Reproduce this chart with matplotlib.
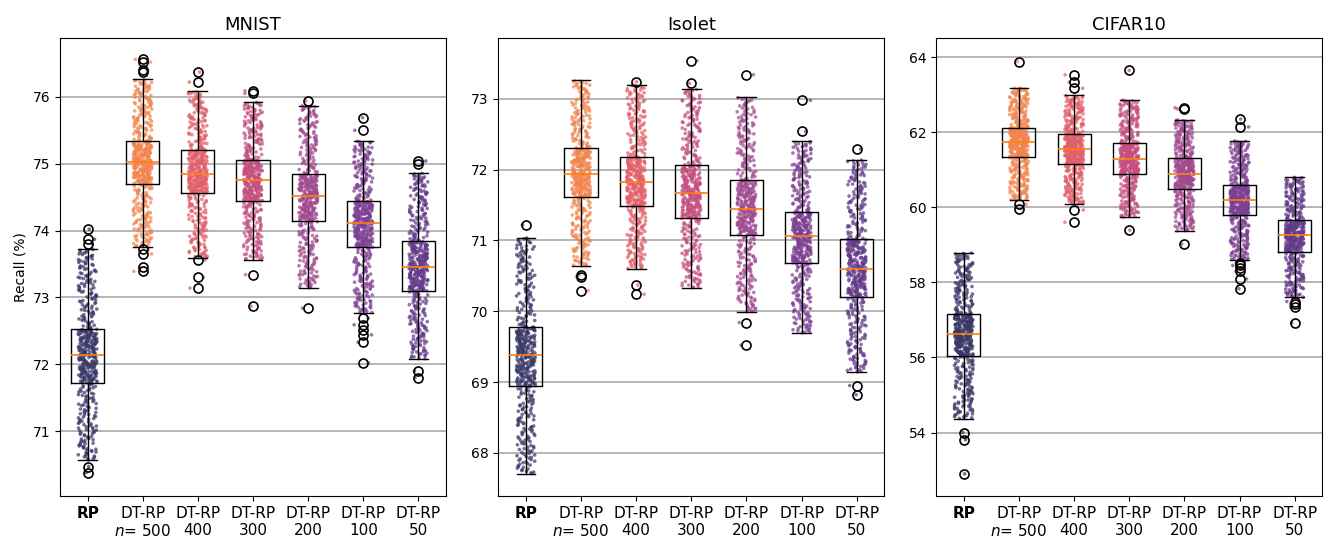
import matplotlib.pyplot as plt
import numpy as np
import pandas as pd
import seaborn as sns

titles = ['MNIST', 'Isolet', 'CIFAR10']
labels = ['RP', 'DT-RP\n$n$= 500', 'DT-RP\n400', 'DT-RP\n300',
          'DT-RP\n200', 'DT-RP\n100', 'DT-RP\n50']
colors = ['#3a3768', '#f2854f', '#e2606a', '#c44f80',
          '#a04a90', '#7d3f92', '#643a8a']

# MNIST recall (%) per method
mnist_whislo = [70.57, 73.76, 73.59, 73.56, 73.14, 72.77, 72.08]
mnist_q1 = [71.72, 74.70, 74.56, 74.44, 74.14, 73.75, 73.10]
mnist_med = [72.14, 75.02, 74.84, 74.75, 74.52, 74.12, 73.46]
mnist_q3 = [72.53, 75.34, 75.20, 75.06, 74.84, 74.44, 73.84]
mnist_whishi = [73.72, 76.26, 76.08, 75.92, 75.87, 75.34, 74.86]
mnist_fliers = [
    [70.47, 70.38, 74.02, 73.87, 73.80],
    [76.56, 76.52, 76.40, 76.37, 73.72, 73.65, 73.45, 73.39],
    [76.37, 76.22, 73.56, 73.30, 73.14],
    [76.09, 76.05, 73.34, 72.87],
    [75.94, 72.84],
    [75.69, 75.50, 72.69, 72.59, 72.51, 72.44, 72.33, 72.02],
    [75.04, 75.00, 71.90, 71.80],
]

# Isolet recall (%)
isolet_whislo = [67.70, 70.64, 70.60, 70.33, 69.99, 69.69, 69.14]
isolet_q1 = [68.94, 71.62, 71.48, 71.32, 71.08, 70.68, 70.20]
isolet_med = [69.38, 71.94, 71.82, 71.67, 71.45, 71.06, 70.60]
isolet_q3 = [69.78, 72.30, 72.18, 72.06, 71.85, 71.40, 71.02]
isolet_whishi = [71.04, 73.26, 73.20, 73.14, 73.02, 72.40, 72.14]
isolet_fliers = [
    [71.22],
    [70.51, 70.49, 70.29],
    [73.24, 70.37, 70.24],
    [73.54, 73.22],
    [73.34, 69.84, 69.52],
    [72.98, 72.54],
    [72.29, 68.95, 68.82],
]

# CIFAR10 recall (%)
cifar_whislo = [54.37, 60.20, 60.09, 59.73, 59.37, 58.60, 57.60]
cifar_q1 = [56.04, 61.33, 61.15, 60.89, 60.50, 59.79, 58.82]
cifar_med = [56.62, 61.73, 61.54, 61.28, 60.89, 60.20, 59.25]
cifar_q3 = [57.17, 62.12, 61.94, 61.70, 61.31, 60.60, 59.65]
cifar_whishi = [58.79, 63.18, 62.98, 62.86, 62.33, 61.77, 60.80]
cifar_fliers = [
    [54.00, 53.81, 52.90],
    [63.88, 60.08, 59.96],
    [63.53, 63.33, 63.17, 59.93, 59.60],
    [63.65, 59.39],
    [62.65, 62.62, 59.02],
    [62.35, 62.14, 58.52, 58.45, 58.38, 58.30, 58.09, 57.83],
    [57.49, 57.42, 57.34, 56.92],
]

panels = [
    (mnist_whislo, mnist_q1, mnist_med, mnist_q3, mnist_whishi, mnist_fliers),
    (isolet_whislo, isolet_q1, isolet_med, isolet_q3, isolet_whishi, isolet_fliers),
    (cifar_whislo, cifar_q1, cifar_med, cifar_q3, cifar_whishi, cifar_fliers),
]
ylims = [(70.03, 76.88), (67.39, 73.86), (52.31, 64.51)]
yticks = [np.arange(71, 77), np.arange(68, 74), np.arange(54, 65, 2)]
lefts = [0.0453, 0.3761, 0.7066]


def spread(lo, q1, med, q3, hi, n=450):
    # points spaced evenly through the quartiles
    p = (np.arange(n) + 0.5) / n
    return np.interp(p, [0, .25, .5, .75, 1], [lo, q1, med, q3, hi])


fig = plt.figure(figsize=(13.25, 5.39), dpi=100)

for j, (lo, q1, med, q3, hi, fl) in enumerate(panels):
    ax = fig.add_axes([lefts[j], 0.0798, 0.2913, 0.8497])
    pos = np.arange(7)
    stats = []
    rows = []
    for i in range(7):
        stats.append(dict(med=med[i], q1=q1[i], q3=q3[i], whislo=lo[i],
                          whishi=hi[i], fliers=fl[i]))
        y = np.concatenate([spread(lo[i], q1[i], med[i], q3[i], hi[i]),
                            fl[i]])
        rows.append(pd.DataFrame({'group': i, 'recall': y}))
    df = pd.concat(rows, ignore_index=True)

    sns.stripplot(data=df, x='group', y='recall', hue='group',
                  palette=colors, legend=False, jitter=0.17, size=2.6,
                  alpha=0.72, linewidth=0, ax=ax, zorder=2)
    ax.bxp(stats, positions=pos, widths=0.6, capwidths=0.34,
           medianprops=dict(color='#ff7f0e', linewidth=1.2),
           flierprops=dict(marker='o', markerfacecolor='none',
                           markeredgecolor='black', markersize=6.5,
                           markeredgewidth=1.2),
           zorder=3)
    ax.set_xlim(-0.5, 6.5)
    ax.set_ylim(*ylims[j])
    ax.set_yticks(yticks[j])
    ax.set_xticks(pos)
    ax.set_xticklabels(labels, fontsize=11)
    ax.get_xticklabels()[0].set_fontweight('bold')
    ax.tick_params(axis='y', labelsize=10)
    ax.yaxis.grid(True, color='#b0b0b0', linewidth=1.3)
    ax.set_axisbelow(True)
    ax.set_title(titles[j], fontsize=13)
    ax.set_xlabel('')
    ax.set_ylabel('Recall (%)' if j == 0 else '', fontsize=10)

fig.savefig('out.png', dpi=100)
